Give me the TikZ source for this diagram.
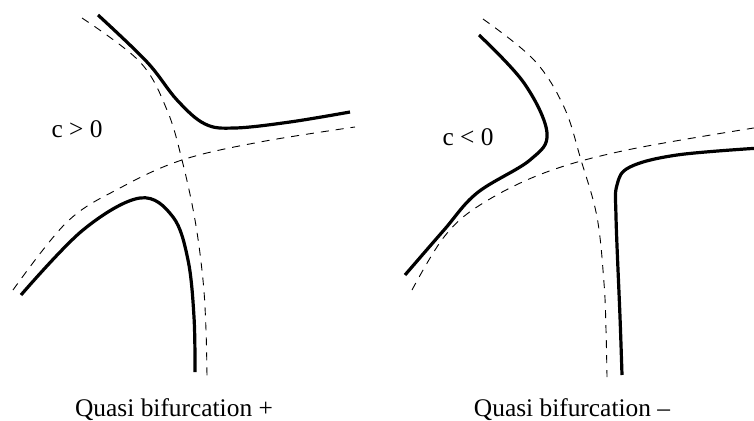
\documentclass[tikz,border=0pt]{standalone}
\usepackage{fontspec}
\setmainfont{Liberation Serif}
\begin{document}
\begin{tikzpicture}[x=1pt, y=-1pt,
	branch/.style={line width=3.2pt, smooth, tension=0.6},
	asym/.style={line width=0.9pt, dash pattern=on 8pt off 7pt, smooth, tension=0.6},
	lbl/.style={anchor=base, inner sep=0pt, font=\fontsize{25.4}{30}\selectfont}]
	\useasboundingbox (0,0) rectangle (754,420);
	% c > 0
	\draw [asym] plot coordinates {(82,18) (140,62) (167,110) (182,160) (195,220) (203,280) (206,330) (207,377)};
	\draw [asym] plot coordinates {(13,290) (67,222) (120,188) (182,160) (260,142) (355,127)};
	\draw [branch] plot coordinates {(98,15) (147,62) (177,100) (205,124) (235,128) (290,122) (350,112)};
	\draw [branch] plot coordinates {(21,295) (83,230) (140,198) (173,217) (188,260) (194,317) (195,372)};
	\node [lbl] (cpos) at (77,137) {c > 0};
	\node [lbl] (qplus) at (174,416) {Quasi bifurcation +};
	% c < 0
	\draw [asym] plot coordinates {(483,19) (534,60) (564,107) (581,160) (597,217) (604,283) (606,330) (607,377)};
	\draw [asym] plot coordinates {(412,290) (444,237) (480,205) (544,173) (627,150) (760,127)};
	\draw [branch] plot coordinates {(479,35) (524,83) (547,133) (530,160) (477,193) (444,230) (405,275)};
	\draw [branch] plot coordinates {(760,148) (677,155) (630,167) (617,185) (616,217) (620,317) (622,375)};
	\node [lbl] (cneg) at (468,145) {c < 0};
	\node [lbl] (qminus) at (572,416) {Quasi bifurcation –};
\end{tikzpicture}
\end{document}
